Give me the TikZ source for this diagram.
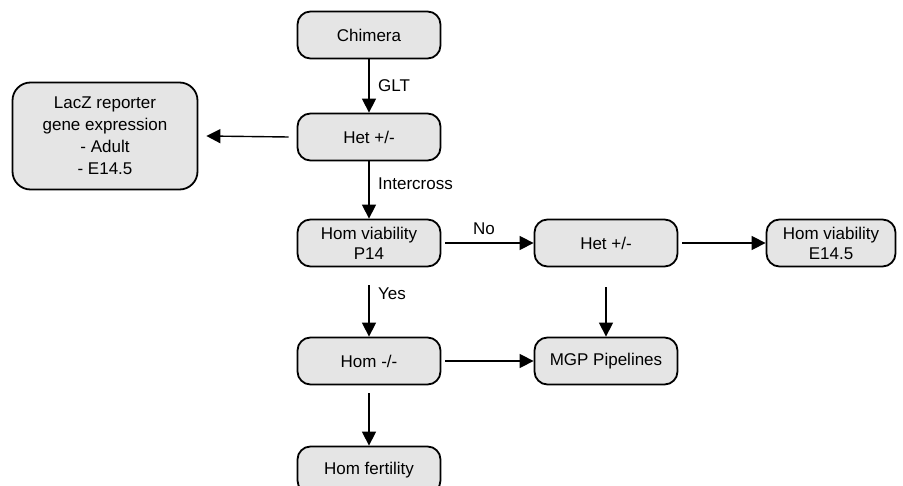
\documentclass[tikz,border=0pt]{standalone}
\usepackage{fontspec}
\setmainfont{Liberation Sans}
\usetikzlibrary{arrows.meta}
\begin{document}
\begin{tikzpicture}[x=1pt,y=-1pt,
  box/.style={draw=black,line width=1.8pt,rounded corners=13pt,fill=gray!20,
    minimum width=143pt,minimum height=47pt,align=center,inner sep=2pt,
    font=\fontsize{17}{21}\selectfont},
  arr/.style={line width=1.4pt,-{Triangle[length=14pt,width=14pt]}},
  lab/.style={font=\fontsize{17}{19}\selectfont,inner sep=0pt}]
\useasboundingbox (0,0) rectangle (903,486);
\clip (0,0) rectangle (903,486);
\node[box] (chim) at (369,35) {Chimera};
\node[box] (het) at (369,137) {Het +/-};
\node[box,minimum width=185pt,minimum height=107pt,rounded corners=18pt,
  font=\fontsize{17}{22}\selectfont] (lacz) at (105,136) {LacZ reporter\\gene expression\\- Adult\\- E14.5};
\node[box,font=\fontsize{17}{20}\selectfont] (homv) at (369,243) {Hom viability\\P14};
\node[box] (het2) at (606,243) {Het +/-};
\node[box,minimum width=129pt,font=\fontsize{17}{20}\selectfont] (e145) at (831,243) {Hom viability\\E14.5};
\node[box] (hom) at (369,361) {Hom -/-};
\node[box] (mgp) at (606,361) {MGP Pipelines};
\node[box] (fert) at (369,470) {Hom fertility};

\draw[arr] (chim.south) -- (het.north);
\draw[arr] ([xshift=-8pt]het.west) -- ([xshift=8pt]lacz.east);
\draw[arr] (het.south) -- (homv.north);
\draw[arr] ([xshift=4pt]homv.east) -- (het2.west);
\draw[arr] ([xshift=4pt]het2.east) -- (e145.west);
\draw[arr] ([yshift=-20pt]het2.south) -- (mgp.north);
\draw[arr] ([yshift=-18pt]homv.south) -- (hom.north);
\draw[arr] ([xshift=4pt]hom.east) -- (mgp.west);
\draw[arr] ([yshift=-8pt]hom.south) -- (fert.north);

\node[lab,anchor=west] (glt) at (378,86) {GLT};
\node[lab,anchor=west] (ic) at (378,184) {Intercross};
\node[lab] (no) at (484,229) {No};
\node[lab,anchor=west] (yes) at (378,294) {Yes};
\end{tikzpicture}
\end{document}
